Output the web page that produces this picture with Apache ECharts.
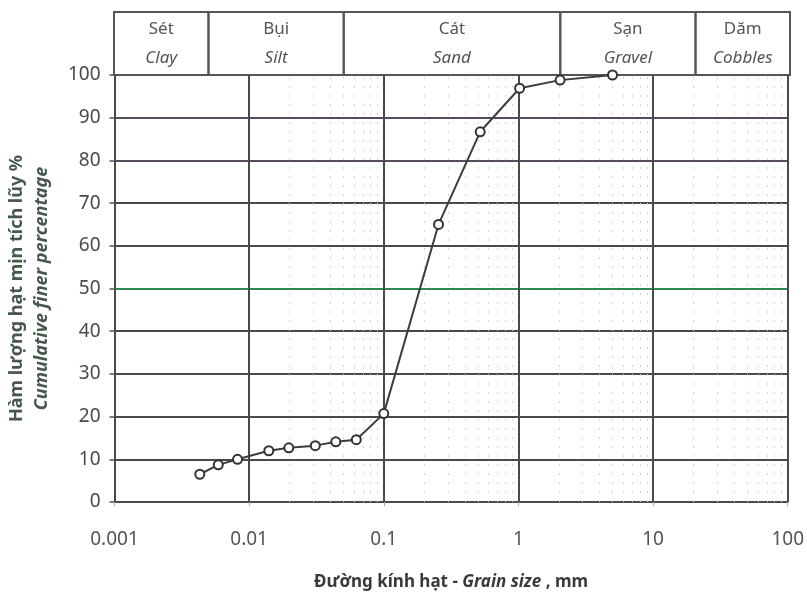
<!DOCTYPE html>
<html><head><meta charset="utf-8">
<script src="https://cdn.jsdelivr.net/npm/echarts@6/dist/echarts.min.js"></script>
<style>html,body{margin:0;padding:0;background:#fff}#c{width:807px;height:596px}</style>
</head><body><div id="c"></div>
<script>
// ---- data ----
const grainSize = [0.0043, 0.0059, 0.0082, 0.014, 0.0197, 0.031, 0.044, 0.0625, 0.1, 0.255, 0.52, 1.02, 2.04, 5.0];
const percentFiner = [6.5, 8.7, 10.0, 12.0, 12.7, 13.2, 14.1, 14.6, 20.7, 65.0, 86.7, 96.9, 98.8, 100];
const xTickLabels = ['0.001', '0.01', '0.1', '1', '10', '100'];
const xTickValues = [0.001, 0.01, 0.1, 1, 10, 100];
const yTickLabels = ['0','10','20','30','40','50','60','70','80','90','100'];
const classBounds = [0.001, 0.005, 0.05, 2, 20, 100];
const classVi = ['Sét', 'Bụi', 'Cát', 'Sạn', 'Dăm'];
const classEn = ['Clay', 'Silt', 'Sand', 'Gravel', 'Cobbles'];
const decades = [0.001, 0.01, 0.1, 1, 10];
const minorSteps = [2, 3, 4, 5, 6, 7, 8, 9];

const FONT = '"Noto Sans", "Open Sans", sans-serif';
const hLineColors = ['#4a4a4a','#4a4a4a','#4a4a4a','#4a4a4a','#4a4a4a','#2f8a52','#4a4a4a','#4a4a4a','#574c5c','#5a4a60','#6e3b4c'];

const minorLines = [];
decades.forEach(d => minorSteps.forEach(m => minorLines.push({ xAxis: +(d * m).toPrecision(3) })));
const majorLines = xTickValues.map(v => ({ xAxis: v }));

const headerAreas = classVi.map((v, i) => [
  { xAxis: classBounds[i], yAxis: 0, name: v + '|' + classEn[i] },
  { xAxis: classBounds[i + 1], yAxis: 1 }
]);

const chart = echarts.init(document.getElementById('c'), null, { renderer: 'canvas' });
chart.setOption({
  animation: false,
  backgroundColor: '#fff',
  textStyle: { fontFamily: FONT },
  grid: [
    { left: 114, right: 17, top: 12, height: 63 },
    { left: 114, right: 17, top: 75, bottom: 92 }
  ],
  xAxis: [
    { gridIndex: 0, type: 'log', logBase: 10, min: 0.001, max: 100, show: false },
    {
      gridIndex: 1, type: 'log', logBase: 10, min: 0.001, max: 100,
      axisLine: { show: true, lineStyle: { color: '#4a4a4a', width: 2 } },
      axisTick: { show: true, length: 4, lineStyle: { color: '#aaa' } },
      axisLabel: {
        fontSize: 19, color: '#555', margin: 28, fontFamily: FONT,
        formatter: v => xTickLabels[Math.round(Math.log10(v)) + 3] || ''
      },
      splitLine: { show: false },
      name: '{a|Đường kính hạt - }{b|Grain size}{a| , mm}',
      nameLocation: 'middle', nameGap: 72,
      nameTextStyle: {
        rich: {
          a: { fontSize: 17, fontWeight: 'bold', color: '#3a3a3a', fontFamily: FONT },
          b: { fontSize: 17, fontWeight: 'bold', fontStyle: 'italic', color: '#3a3a3a', fontFamily: FONT }
        }
      }
    }
  ],
  yAxis: [
    { gridIndex: 0, type: 'value', min: 0, max: 1, show: false },
    {
      gridIndex: 1, type: 'value', min: 0, max: 100, interval: 10,
      axisLine: { show: true, lineStyle: { color: '#4a4a4a', width: 2 } },
      axisTick: { show: true, length: 5, lineStyle: { color: '#555', width: 1.5 } },
      axisLabel: {
        fontSize: 19, color: '#4a4a4a', margin: 14, fontFamily: FONT,
        formatter: v => yTickLabels[Math.round(v / 10)]
      },
      splitLine: { show: true, lineStyle: { color: hLineColors, width: 2 } },
      name: '{a|Hàm lượng hạt mịn tích lũy %}\n{b|Cumulative finer percentage}',
      nameLocation: 'middle', nameRotate: 90, nameGap: 60,
      nameTextStyle: {
        rich: {
          a: { fontSize: 18, fontWeight: 'bold', color: '#45594b', lineHeight: 25, fontFamily: FONT },
          b: { fontSize: 18, fontWeight: 'bold', fontStyle: 'italic', color: '#45594b', lineHeight: 25, fontFamily: FONT }
        }
      }
    }
  ],
  series: [
    {
      type: 'scatter', xAxisIndex: 0, yAxisIndex: 0, silent: true,
      data: [[0.01, 0.5]], symbolSize: 0,
      markArea: {
        silent: true,
        itemStyle: { color: 'rgba(0,0,0,0)', borderColor: '#555', borderWidth: 2 },
        label: {
          show: true, position: 'inside',
          formatter: p => { const s = p.name.split('|'); return '{a|' + s[0] + '}\n{b|' + s[1] + '}'; },
          rich: {
            a: { fontSize: 17, color: '#555', lineHeight: 29, fontFamily: FONT },
            b: { fontSize: 17, color: '#555', fontStyle: 'italic', lineHeight: 29, fontFamily: FONT }
          }
        },
        data: headerAreas
      }
    },
    {
      type: 'line', xAxisIndex: 1, yAxisIndex: 1, z: 1, silent: true,
      data: [],
      markLine: {
        silent: true, symbol: 'none', animation: false,
        label: { show: false },
        lineStyle: { color: '#d2d2d2', type: [2, 7], width: 1 },
        data: minorLines
      }
    },
    {
      type: 'line', xAxisIndex: 1, yAxisIndex: 1, z: 2, silent: true,
      data: [],
      markLine: {
        silent: true, symbol: 'none', animation: false,
        label: { show: false },
        lineStyle: { color: '#4a4a4a', type: 'solid', width: 2 },
        data: majorLines
      }
    },
    {
      type: 'line', xAxisIndex: 1, yAxisIndex: 1, z: 5,
      data: grainSize.map((g, i) => [g, percentFiner[i]]),
      lineStyle: { color: '#3d3d3d', width: 2 },
      symbol: 'circle', symbolSize: 9,
      itemStyle: { color: '#fff', borderColor: '#333', borderWidth: 2 }
    }
  ]
});
</script></body></html>
